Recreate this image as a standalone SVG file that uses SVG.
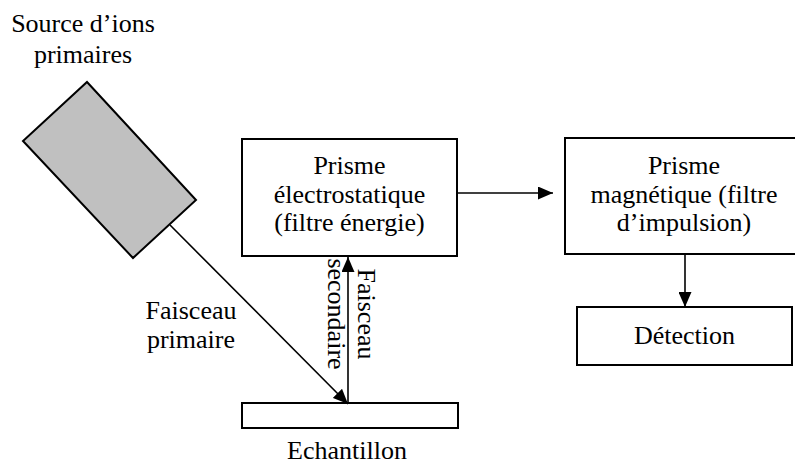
<svg xmlns="http://www.w3.org/2000/svg" width="795" height="466" viewBox="0 0 795 466">
<style>
.t{font-family:'Liberation Serif','Times New Roman',Times,serif;font-size:26px;fill:#000;text-anchor:middle}
.box{fill:#fff;stroke:#000;stroke-width:2}
.src{fill:#c0c0c0;stroke:#000;stroke-width:2}
.c{stroke:#000;stroke-width:1.6;fill:none}
</style>
<defs>
<marker id="ah" viewBox="0 0 15 13" refX="15" refY="6.5" markerWidth="15" markerHeight="13" markerUnits="userSpaceOnUse" orient="auto">
<path d="M0,0 L15,6.5 L0,13 z" fill="#000"/>
</marker>
</defs>
<rect width="795" height="466" fill="#fff"/>
<g id="source">
<polygon class="src" points="87,82 196,200 133,258 23,141"/>
<text class="t" x="83" y="32">Source d’ions</text>
<text class="t" x="83" y="63">primaires</text>
</g>
<g id="electro">
<rect class="box" x="242" y="139" width="215" height="117"/>
<text class="t" x="349.5" y="174">Prisme</text>
<text class="t" x="349.5" y="203">électrostatique</text>
<text class="t" x="349.5" y="231">(filtre énergie)</text>
</g>
<g id="magnetique">
<rect class="box" x="565" y="138" width="238" height="116"/>
<text class="t" x="684" y="174">Prisme</text>
<text class="t" x="684" y="203">magnétique (filtre</text>
<text class="t" x="684" y="231">d’impulsion)</text>
</g>
<g id="detection">
<rect class="box" x="577" y="307" width="215" height="58"/>
<text class="t" x="684.5" y="344">Détection</text>
</g>
<g id="echantillon">
<rect class="box" x="242" y="403" width="216" height="25"/>
<text class="t" x="347" y="459">Echantillon</text>
</g>
<g id="labels">
<text class="t" x="191" y="319">Faisceau</text>
<text class="t" x="191" y="348">primaire</text>
<g transform="translate(348,314) rotate(90)">
<text class="t" x="0" y="-10">Faisceau</text>
<text class="t" x="0" y="20">secondaire</text>
</g>
</g>
<g id="connectors">
<line class="c" x1="170" y1="225" x2="348" y2="404" marker-end="url(#ah)"/>
<line class="c" x1="348" y1="404" x2="348" y2="257" marker-end="url(#ah)"/>
<line class="c" x1="457" y1="193" x2="553" y2="193" marker-end="url(#ah)"/>
<line class="c" x1="685" y1="254" x2="685" y2="307" marker-end="url(#ah)"/>
</g>
</svg>
